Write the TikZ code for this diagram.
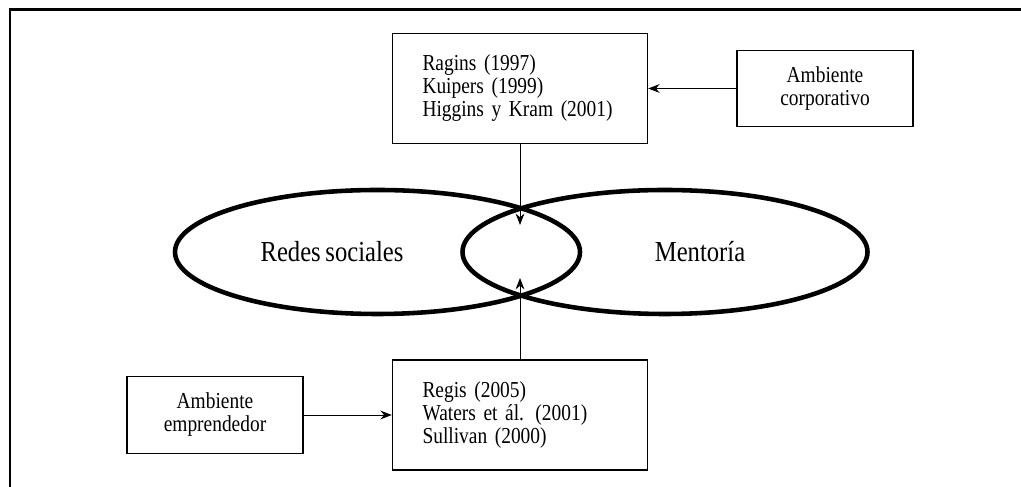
\documentclass[tikz,border=0pt]{standalone}
\usepackage{fontspec}
\setmainfont{Liberation Serif}[FakeStretch=0.85, WordSpace=0.75]
\usetikzlibrary{arrows.meta,shapes.geometric}

\begin{document}
\begin{tikzpicture}[
    caja/.style={rectangle, draw, line width=0.8pt, font=\fontsize{13}{13.1}\selectfont},
    fuente/.style={caja, minimum width=5.1cm, minimum height=2.2cm, inner xsep=0.6cm, text width=3.9cm, align=left},
    ambiente/.style={caja, minimum width=3.52cm, minimum height=1.53cm, align=center},
    campo/.style={ellipse, draw, line width=2.6pt, minimum width=8.1cm, minimum height=2.48cm, inner sep=0pt},
    rotulo/.style={font=\fontsize{16.5}{18}\selectfont},
    flecha/.style={-{Stealth[length=6.5pt, width=5pt]}, line width=0.55pt}
]
    \useasboundingbox (0,0) rectangle (20.42,9.74);
    % marco
    \draw[line width=1.7pt] (20.42,9.54) -- (0.2,9.54) -- (0.2,0);

    % campos
    \node[campo] (redes) at (7.55,4.7) {};
    \node[campo] (mentoria) at (13.3,4.7) {};
    \node[rotulo] (tredes) at (6.64,4.7) {Redes sociales};
    \node[rotulo] (tmentoria) at (14.0,4.7) {Mentoría};
    \coordinate (cruceA) at (10.4,5.24);
    \coordinate (cruceB) at (10.4,4.18);

    % cajas
    \node[fuente] (arriba) at (10.4,7.97) {Ragins (1997)\\Kuipers (1999)\\Higgins y Kram (2001)};
    \node[ambiente] (corp) at (16.5,7.97) {Ambiente\\corporativo};
    \node[fuente] (abajo) at (10.4,1.44) {Regis (2005)\\Waters et ál. (2001)\\Sullivan (2000)};
    \node[ambiente] (empr) at (4.3,1.44) {Ambiente\\emprendedor};

    % flechas
    \draw[flecha] (corp) -- (arriba);
    \draw[flecha] (arriba) -- (cruceA);
    \draw[flecha] (empr) -- (abajo);
    \draw[flecha] (abajo) -- (cruceB);
\end{tikzpicture}
\end{document}
